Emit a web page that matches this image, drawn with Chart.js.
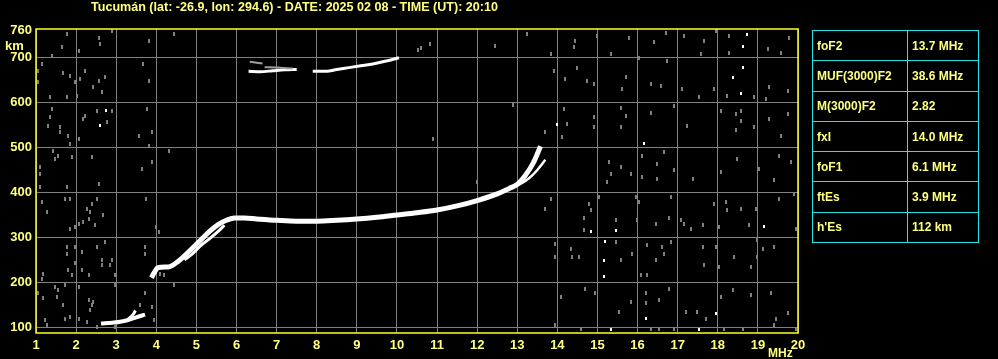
<!DOCTYPE html>
<html>
<head>
<meta charset="utf-8">
<script src="https://cdn.jsdelivr.net/npm/chart.js@4"></script>
<style>
    body { margin: 0; background: #000; }
    #wrap { position: relative; width: 998px; height: 359px; overflow: hidden; }
    #title, .lbl { position: absolute; color: #ffff80; font: bold 12px 'Liberation Sans', Arial, sans-serif; white-space: nowrap; }
    #title { left: 91px; top: 0px; line-height: 14px; transform-origin: left top; }
    #km { left: 5px; top: 38px; font-size: 13px; }
    #mhz { left: 768px; top: 346px; }
    #params { position: absolute; left: 812px; top: 30px; border-collapse: collapse; }
    #params td { border: 1px solid #22e6e6; height: 29.3px; padding: 0 0 0 4px; color: #ffff80;
                 font: bold 12px 'Liberation Sans', Arial, sans-serif; vertical-align: middle; }
    #params td:first-child { width: 90px; }
    #params td:last-child { width: 66px; }
</style>
</head>
<body>
<div id="wrap">
    <canvas id="iono" width="998" height="359"></canvas>
    <span id="title">Tucumán (lat: -26.9, lon: 294.6) - DATE: 2025 02 08 - TIME (UT): 20:10</span>
    <span class="lbl" id="km">km</span>
    <span class="lbl" id="mhz">MHz</span>
    <table id="params"></table>
</div>
<script>
// Scaled parameters (right hand table)
const paramNames = ['foF2', 'MUF(3000)F2', 'M(3000)F2', 'fxI', 'foF1', 'ftEs', "h'Es"];
const paramValues = ['13.7 MHz', '38.6 MHz', '2.82', '14.0 MHz', '6.1 MHz', '3.9 MHz', '112 km'];

// Axis ticks
const freqTicks = [1, 2, 3, 4, 5, 6, 7, 8, 9, 10, 11, 12, 13, 14, 15, 16, 17, 18, 19, 20];
const heightTicks = [100, 200, 300, 400, 500, 600, 700, 760];

// Es layer trace (MHz / km)
const esFreq = [2.62, 2.9, 3.1, 3.3, 3.5, 3.72];
const esHeight = [108, 110, 112, 116, 122, 128];
const esTipFreq = [3.3, 3.42, 3.48];
const esTipHeight = [118, 128, 137];

// F layer ordinary trace
const fFreq = [3.88, 3.95, 4.05, 4.3, 4.55, 4.75, 4.95, 5.15, 5.35, 5.55, 5.75, 5.95, 6.2, 6.5, 7.0, 7.5, 8.0,
               8.5, 9.0, 9.5, 10.0, 10.5, 11.0, 11.5, 12.0, 12.5, 12.8, 13.0, 13.2, 13.4, 13.58];
const fHeight = [210, 222, 233, 234, 247, 263, 280, 298, 315, 329, 338, 343, 343, 341, 338, 336, 336,
                 338, 341, 345, 350, 355, 361, 370, 382, 397, 409, 418, 438, 466, 503];

// F layer second (split) traces
const f2Freq = [4.7, 4.9, 5.1, 5.3, 5.5, 5.7];
const f2Height = [250, 263, 281, 295, 310, 327];
const xFreq = [12.9, 13.1, 13.3, 13.5, 13.7];
const xHeight = [412, 420, 432, 450, 473];

// Second hop echoes
const hopAFreq = [6.3, 6.6, 6.9, 7.2, 7.5];
const hopAHeight = [670, 669, 671, 673, 674];
const hopBFreq = [7.9, 8.25, 8.5, 8.8, 9.1, 9.4, 9.7, 10.05];
const hopBHeight = [670, 670, 674, 678, 682, 686, 692, 700];
const hopCFreq = [6.33, 6.5, 6.65];
const hopCHeight = [691, 689, 687];
const hopDFreq = [6.7, 7.0, 7.4];
const hopDHeight = [679, 678, 676];

// Noise dots [MHz, km]
const noiseGray = [
    [14.45,737],[14.99,749],[15.78,745],[16.41,734],[16.70,756],[17.16,749],[17.66,737],[17.95,760],[18.28,749],
    [19.24,719],[19.78,745],[19.58,711],[18.28,711],[13.83,708],[14.41,723],[15.33,708],[16.03,700],[16.74,693],
    [17.58,708],[13.91,671],[14.2,652],[14.74,649],[14.91,641],[14.49,678],[15.7,656],[15.62,630],[16.33,641],
    [16.58,637],[17.12,630],[17.53,612],[17.91,630],[18.24,615],[18.91,612],[19.28,634],[19.2,608],[19.74,626],
    [14.16,586],[14.24,552],[14.91,567],[14.91,545],[15.58,589],[15.7,571],[15.58,545],[16.33,578],[16.91,593],
    [17.24,549],[18.08,582],[18.45,575],[18.58,582],[18.58,560],[18.45,538],[18.91,545],[19.28,563],[19.58,526],
    [19.74,575],[13.7,534],[14.12,523],[16.12,482],[16.66,490],[15.28,467],[15.58,456],[15.33,441],[15.24,423],
    [15.83,441],[16.12,434],[16.49,464],[16.49,430],[16.91,449],[17.37,430],[18.08,445],[18.49,475],[19.03,452],
    [19.41,427],[19.53,482],[19.83,467],[13.83,386],[13.7,364],[14.78,375],[14.83,360],[14.66,342],[15.03,390],
    [15.45,338],[15.95,390],[16.03,378],[16.83,390],[17.08,338],[17.16,330],[17.91,375],[18.2,378],[18.24,360],
    [18.58,364],[18.95,364],[19.53,386],[19.91,397],[14.66,316],[15.99,338],[16.45,330],[16.78,342],[17.33,319],
    [17.62,327],[18.03,323],[18.78,327],[19.95,319],[13.95,286],[13.95,256],[14.33,275],[14.37,256],[14.53,256],
    [15.45,290],[15.87,264],[16.24,282],[16.62,279],[16.66,264],[16.83,290],[16.45,249],[16.24,216],[15.58,249],
    [16.08,216],[17.62,279],[17.66,238],[17.95,279],[18.03,234],[18.41,256],[18.83,234],[18.99,293],[18.99,256],
    [19.12,275],[19.41,279],[14.08,168],[14.7,186],[14.95,175],[15.53,134],[15.83,156],[16.2,175],[16.2,153],
    [16.53,160],[16.78,186],[17.2,134],[17.49,134],[17.7,119],[18.08,168],[18.37,182],[18.83,171],[19.33,175],
    [19.45,119],[19.74,131],[13.95,105],[14.58,97],[16.33,97],[16.53,97],[16.91,97],[18.16,97],[18.62,97],
    [19.41,105],[19.95,97],
    [1.14,686],[1.39,704],[1.64,723],[1.77,752],[2.06,715],[2.56,745],[2.6,730],[2.89,760],[4.43,752],[3.81,737],
    [1.06,671],[1.06,645],[1.68,667],[1.85,660],[1.98,645],[2.1,652],[2.23,671],[2.56,649],[2.64,623],[1.35,612],
    [1.77,612],[2.02,615],[2.43,634],[2.73,656],[3.68,686],[3.81,649],[1.39,586],[1.35,567],[1.31,549],[1.6,545],
    [1.6,534],[1.81,526],[1.85,508],[2.06,519],[2.18,563],[2.23,571],[2.52,582],[2.77,556],[2.89,582],[3.77,586],
    [3.89,534],[3.56,526],[3.81,504],[1.43,493],[1.48,475],[1.56,482],[1.1,456],[1.1,441],[1.89,478],[2.39,478],
    [2.56,419],[3.64,452],[3.89,467],[4.31,493],[1.1,412],[1.77,412],[1.14,378],[1.27,356],[1.73,386],[1.85,386],
    [2.27,364],[2.35,356],[2.18,334],[2.31,341],[2.39,375],[2.52,386],[2.48,327],[2.68,349],[2.06,330],[1.85,319],
    [1.98,323],[3.98,323],[4.06,312],[3.75,386],[2.73,290],[2.52,279],[1.77,279],[1.77,264],[1.98,279],[2.14,267],
    [2.64,249],[2.89,249],[2.64,238],[2.85,238],[1.98,242],[1.81,227],[1.89,216],[1.18,219],[1.14,208],[2.14,227],
    [2.31,216],[2.98,216],[2.98,193],[3.73,279],[3.73,264],[4.1,219],[4.18,216],[4.43,193],[1.06,175],[1.18,164],
    [1.47,190],[1.56,182],[1.52,168],[1.68,149],[1.73,193],[2.06,190],[2.31,160],[2.43,156],[2.39,149],[2.35,138],
    [1.85,123],[1.73,119],[1.23,116],[1.27,105],[2.06,119],[2.27,112],[2.52,101],[2.98,101],[3.6,149],[3.93,116],
    [3.73,175],[3.89,145],
    [10.53,717],[10.6,721],[10.83,730],[12.45,727],[13.25,752],[12.9,594],[10.9,518],[12.0,423]
];
const noiseWhite = [
    [18.64,678],[13.99,552],[16.16,508],[14.83,312],[15.45,316],[19.14,325],[15.2,290],[15.16,249],[15.16,212],
    [16.2,119],[17.95,131],[15.33,94],[17.53,95],[2.74,582],[2.6,550],[18.74,752],[18.64,726],[18.39,656],[18.58,620]
];

const YELLOW_TXT = '#ffff80';
const GRID = '#808080';

// Build parameters table
const table = document.getElementById('params');
paramNames.forEach((name, i) => {
    const tr = document.createElement('tr');
    tr.innerHTML = `<td>${name}</td><td>${paramValues[i]}</td>`;
    table.appendChild(tr);
});

// Squeeze title to the width it has in the original
const title = document.getElementById('title');
title.style.transform = `scaleX(${407 / title.offsetWidth})`;

// Small pixel blocks used for the noise points
const makeDot = (w, h, color) => {
    const c = document.createElement('canvas');
    c.width = w;
    c.height = h;
    const cx = c.getContext('2d');
    cx.fillStyle = color;
    cx.fillRect(0, 0, w, h);
    return c;
};
const grayDot = makeDot(2, 4, GRID);
const whiteDot = makeDot(2, 3, '#ffffff');

const pts = (xs, ys) => xs.map((x, i) => ({ x: x, y: ys[i] }));
const pairs = (arr) => arr.map(p => ({ x: p[0], y: p[1] }));

const trace = (data, width, color) => ({
    data: data,
    showLine: true,
    borderColor: color || '#ffffff',
    borderWidth: width,
    pointRadius: 0,
    cubicInterpolationMode: 'monotone',
    borderCapStyle: 'butt'
});

// Yellow frame around the plot
const framePlugin = {
    id: 'frame',
    afterDraw(chart) {
        const a = chart.chartArea;
        const ctx = chart.ctx;
        ctx.save();
        ctx.strokeStyle = '#ffff20';
        ctx.lineWidth = 1.5;
        ctx.strokeRect(a.left, a.top, a.right - a.left, a.bottom - a.top);
        ctx.restore();
    }
};

new Chart(document.getElementById('iono'), {
    type: 'scatter',
    data: {
        datasets: [
            { data: pairs(noiseGray), pointStyle: grayDot, pointRadius: 2 },
            { data: pairs(noiseWhite), pointStyle: whiteDot, pointRadius: 2 },
            trace(pts(hopCFreq, hopCHeight), 2, '#a0a0a0'),
            trace(pts(hopDFreq, hopDHeight), 2, '#a0a0a0'),
            trace(pts(hopAFreq, hopAHeight), 3),
            trace(pts(hopBFreq, hopBHeight), 3),
            trace(pts(esFreq, esHeight), 4),
            trace(pts(esTipFreq, esTipHeight), 3),
            trace(pts(fFreq, fHeight), 5),
            trace(pts(f2Freq, f2Height), 3),
            trace(pts(xFreq, xHeight), 2.5)
        ]
    },
    options: {
        responsive: false,
        animation: false,
        layout: { padding: { top: 29, right: 200, bottom: 0, left: 0 } },
        plugins: { legend: { display: false }, tooltip: { enabled: false } },
        scales: {
            x: {
                type: 'linear',
                min: 1,
                max: 20,
                afterFit: (s) => { s.height = 26; },
                afterBuildTicks: (s) => { s.ticks = freqTicks.map(v => ({ value: v })); },
                grid: { color: GRID, lineWidth: 1, drawTicks: false },
                border: { display: false },
                ticks: { color: YELLOW_TXT, padding: 5, autoSkip: false, maxRotation: 0,
                         font: { family: "'Liberation Sans', Arial", size: 13, weight: 'bold' } }
            },
            y: {
                type: 'linear',
                min: 87,
                max: 764,
                afterFit: (s) => { s.width = 36; },
                afterBuildTicks: (s) => { s.ticks = heightTicks.map(v => ({ value: v })); },
                grid: { color: (c) => c.tick && c.tick.value === 760 ? 'rgba(0,0,0,0)' : GRID,
                        lineWidth: 1, drawTicks: false },
                border: { display: false },
                ticks: { color: YELLOW_TXT, padding: 4,
                         font: { family: "'Liberation Sans', Arial", size: 13, weight: 'bold' } }
            }
        }
    },
    plugins: [framePlugin]
});
</script>
</body>
</html>
